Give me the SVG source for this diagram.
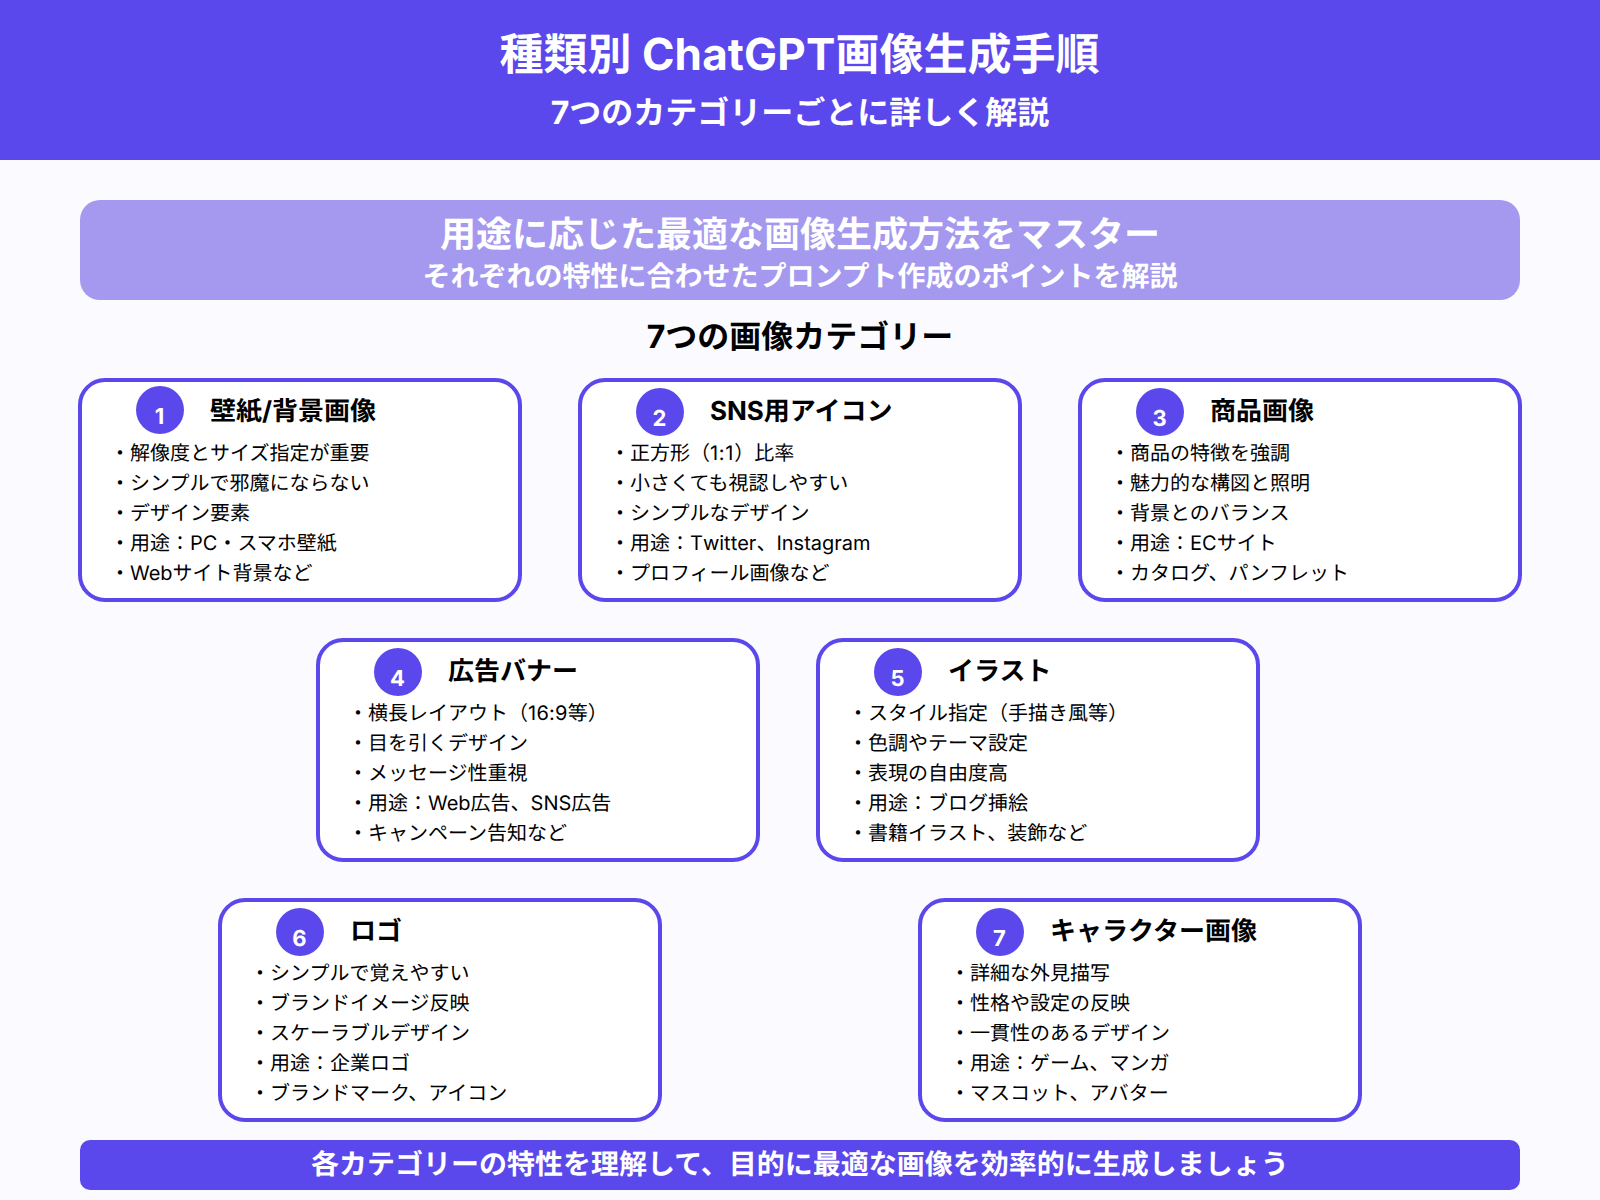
<svg xmlns="http://www.w3.org/2000/svg" width="1600" height="1200" viewBox="0 0 1600 1200">
<style>
text{font-family:Inter,"Noto Sans CJK JP",sans-serif;text-rendering:geometricPrecision}
.n{font-kerning:none;font-feature-settings:"calt" 0,"kern" 0}
.c{text-anchor:middle}
.w{fill:#fff}
.b{font-weight:700}
.card{fill:#fff;stroke:#5B48EC;stroke-width:4}
.dot{fill:#5B48EC}
.num{font-size:22px;font-weight:700;fill:#fff;text-anchor:middle}
.h{font-size:26px;font-weight:700;fill:#000}
.i{font-size:20px;fill:#000}
</style>
<rect width="1600" height="1200" fill="#FAFAFF"/>
<g id="header">
<rect width="1600" height="160" fill="#5B48EC"/>
<text x="799.5" y="70" class="c w b" font-size="44">種類別 <tspan class="n" letter-spacing="0.15">ChatGPT</tspan>画像生成手順</text>
<text x="800" y="124" class="c w b" font-size="32">7つのカテゴリーごとに詳しく解説</text>
</g>
<g id="band">
<rect x="80" y="200" width="1440" height="100" rx="20" fill="#A499EF"/>
<text x="800" y="246.5" class="c w b" font-size="36">用途に応じた最適な画像生成方法をマスター</text>
<text x="800" y="286" class="c w b" font-size="28">それぞれの特性に合わせたプロンプト作成のポイントを解説</text>
</g>
<text id="section" x="800" y="348" class="c b" font-size="32" fill="#000">7つの画像カテゴリー</text>
<g id="connectors"></g>
<g id="node1">
<rect class="card" x="80" y="380" width="440" height="220" rx="25"/>
<circle class="dot" cx="160" cy="410" r="24"/>
<text class="num" x="159.5" y="424">1</text>
<text class="h" x="210" y="420">壁紙/背景画像</text>
<text class="i" x="110" y="460">・解像度とサイズ指定が重要</text>
<text class="i" x="110" y="490">・シンプルで邪魔にならない</text>
<text class="i" x="110" y="520">・デザイン要素</text>
<text class="i" x="110" y="550">・用途：PC・スマホ壁紙</text>
<text class="i" x="110" y="580">・Webサイト背景など</text>
</g>
<g id="node2">
<rect class="card" x="580" y="380" width="440" height="220" rx="25"/>
<circle class="dot" cx="660" cy="412" r="24"/>
<text class="num" x="659.5" y="426">2</text>
<text class="h" x="710" y="420">SNS用アイコン</text>
<text class="i" x="610" y="460">・正方形（<tspan class="n" letter-spacing="0.7">1:1</tspan>）比率</text>
<text class="i" x="610" y="490">・小さくても視認しやすい</text>
<text class="i" x="610" y="520">・シンプルなデザイン</text>
<text class="i" x="610" y="550">・用途：<tspan class="n">Twitter、Instagram</tspan></text>
<text class="i" x="610" y="580">・プロフィール画像など</text>
</g>
<g id="node3">
<rect class="card" x="1080" y="380" width="440" height="220" rx="25"/>
<circle class="dot" cx="1160" cy="412" r="24"/>
<text class="num" x="1159.5" y="426">3</text>
<text class="h" x="1210" y="420">商品画像</text>
<text class="i" x="1110" y="460">・商品の特徴を強調</text>
<text class="i" x="1110" y="490">・魅力的な構図と照明</text>
<text class="i" x="1110" y="520">・背景とのバランス</text>
<text class="i" x="1110" y="550">・用途：ECサイト</text>
<text class="i" x="1110" y="580">・カタログ、パンフレット</text>
</g>
<g id="node4">
<rect class="card" x="318" y="640" width="440" height="220" rx="25"/>
<circle class="dot" cx="398" cy="672" r="24"/>
<text class="num" x="397.5" y="686">4</text>
<text class="h" x="448" y="680">広告バナー</text>
<text class="i" x="348" y="720">・横長レイアウト（<tspan class="n" letter-spacing="0.25">16:9</tspan>等）</text>
<text class="i" x="348" y="750">・目を引くデザイン</text>
<text class="i" x="348" y="780">・メッセージ性重視</text>
<text class="i" x="348" y="810">・用途：Web広告、SNS広告</text>
<text class="i" x="348" y="840">・キャンペーン告知など</text>
</g>
<g id="node5">
<rect class="card" x="818" y="640" width="440" height="220" rx="25"/>
<circle class="dot" cx="898" cy="672" r="24"/>
<text class="num" x="897.5" y="686">5</text>
<text class="h" x="948" y="680">イラスト</text>
<text class="i" x="848" y="720">・スタイル指定（手描き風等）</text>
<text class="i" x="848" y="750">・色調やテーマ設定</text>
<text class="i" x="848" y="780">・表現の自由度高</text>
<text class="i" x="848" y="810">・用途：ブログ挿絵</text>
<text class="i" x="848" y="840">・書籍イラスト、装飾など</text>
</g>
<g id="node6">
<rect class="card" x="220" y="900" width="440" height="220" rx="25"/>
<circle class="dot" cx="300" cy="932" r="24"/>
<text class="num" x="299.5" y="946">6</text>
<text class="h" x="350" y="940">ロゴ</text>
<text class="i" x="250" y="980">・シンプルで覚えやすい</text>
<text class="i" x="250" y="1010">・ブランドイメージ反映</text>
<text class="i" x="250" y="1040">・スケーラブルデザイン</text>
<text class="i" x="250" y="1070">・用途：企業ロゴ</text>
<text class="i" x="250" y="1100">・ブランドマーク、アイコン</text>
</g>
<g id="node7">
<rect class="card" x="920" y="900" width="440" height="220" rx="25"/>
<circle class="dot" cx="1000" cy="932" r="24"/>
<text class="num" x="999.5" y="946">7</text>
<text class="h" x="1050" y="940">キャラクター画像</text>
<text class="i" x="950" y="980">・詳細な外見描写</text>
<text class="i" x="950" y="1010">・性格や設定の反映</text>
<text class="i" x="950" y="1040">・一貫性のあるデザイン</text>
<text class="i" x="950" y="1070">・用途：ゲーム、マンガ</text>
<text class="i" x="950" y="1100">・マスコット、アバター</text>
</g>
<g id="footer">
<rect x="80" y="1140" width="1440" height="50" rx="10" fill="#5B48EC"/>
<text x="800" y="1174" class="c w b" font-size="28">各カテゴリーの特性を理解して、目的に最適な画像を効率的に生成しましょう</text>
</g>
</svg>
